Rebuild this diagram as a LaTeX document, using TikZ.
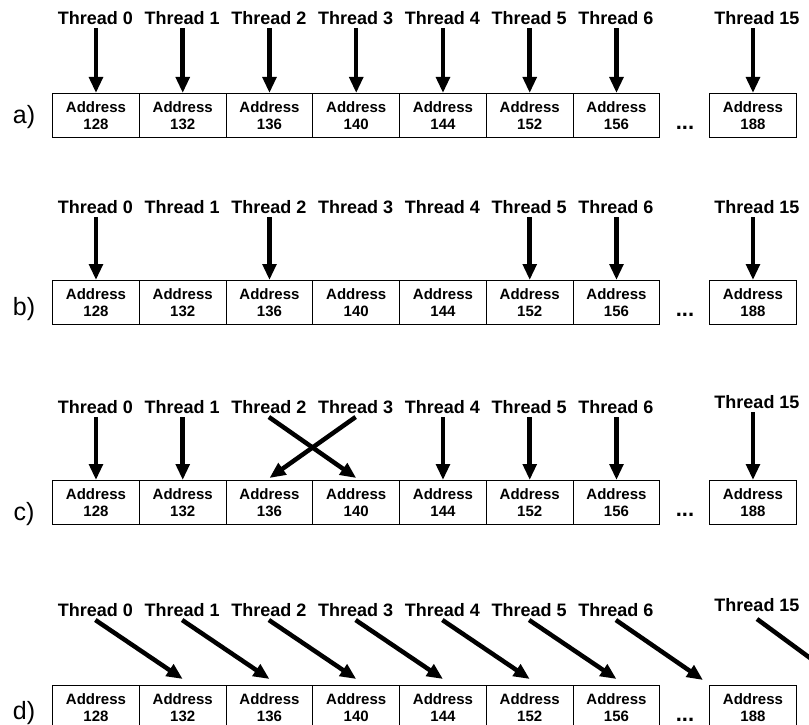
\documentclass[tikz,border=0pt]{standalone}
\usepackage{fontspec}
\setmainfont{Liberation Sans}
\usetikzlibrary{arrows.meta}
\tikzset{
 addr/.style={draw, line width=1.2pt, minimum width=86.75pt, minimum height=44pt, inner sep=0pt, anchor=north west, align=center, font=\fontsize{15}{16.5}\selectfont\bfseries},
 thr/.style={font=\fontsize{18}{18}\selectfont\bfseries, inner xsep=0pt, inner ysep=3.2pt},
 arr/.style={line width=4.5pt, -{Triangle[width=13.5pt,length=16pt]}},
 rowlab/.style={font=\fontsize{25}{25}\selectfont, anchor=base, inner sep=0pt},
 dotsty/.style={font=\fontsize{22}{22}\selectfont\bfseries, anchor=base, inner sep=0pt},
}
\begin{document}
\begin{tikzpicture}[x=1pt,y=-1pt]
\useasboundingbox (0,0) rectangle (809,725);
\clip (0,0) rectangle (809,725);
\foreach \rw/\tp/\ly/\fy/\lbo in {a/93/18/18/31, b/280/207/207/35, c/480/407/402/40, d/685/610/605/34}{
  \foreach \ad [count=\k from 0] in {128,132,136,140,144,152,156}{
    \node[addr] (\rw b\k) at ({52+86.75*\k},\tp) {Address\\\ad};
    \node[thr] (\rw t\k) at ({52+86.75*(\k+0.5)},\ly) {Thread \k};
  }
  \node[addr] (\rw b15) at (709,\tp) {Address\\188};
  \node[thr] (\rw t15) at (757,\fy) {Thread 15};
  \node[dotsty] (\rw dots) at (685,{\tp+36}) {...};
  \node[rowlab] (\rw lab) at (24,{\tp+\lbo}) {\rw)};
}
% row a
\foreach \k in {0,1,2,3,4,5,6,15}{
  \draw[arr] (at\k.south -| ab\k.north) -- (ab\k.north);
}
% row b
\foreach \k in {0,2,5,6,15}{
  \draw[arr] (bt\k.south -| bb\k.north) -- (bb\k.north);
}
% row c
\foreach \k in {0,1,4,5,6,15}{
  \draw[arr] (ct\k.south -| cb\k.north) -- (cb\k.north);
}
\draw[arr] (ct2.south) -- ([yshift=2pt]cb3.north);
\draw[arr] (ct3.south) -- ([yshift=2pt]cb2.north);
% row d
\foreach \k/\m in {0/1,1/2,2/3,3/4,4/5,5/6}{
  \draw[arr] (dt\k.south) -- ([yshift=6pt]db\m.north);
}
\draw[arr] (dt6.south) -- ([xshift=-6pt,yshift=5pt]db15.north west);
\coordinate (dend) at (840,680);
\draw[arr] ([yshift=-4pt]dt15.south) -- (dend);
\end{tikzpicture}
\end{document}
